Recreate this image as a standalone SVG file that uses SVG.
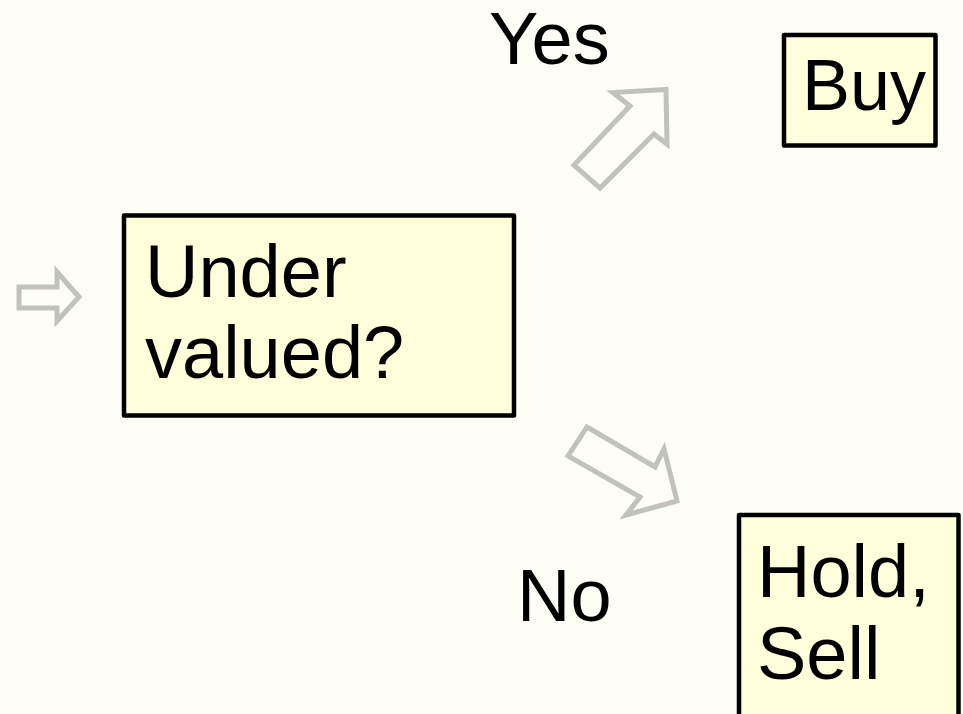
<svg xmlns="http://www.w3.org/2000/svg" width="963" height="714" viewBox="0 0 963 714">
<style>
.bg{fill:#fefef6}
.box{fill:#ffffdc;stroke:#000;stroke-width:4.5;stroke-linejoin:round}
.t{font-family:"Liberation Sans",Arial,sans-serif;font-size:74px;fill:#000}
.arr{fill:none;stroke:#c2c2bc;stroke-width:5;stroke-linejoin:miter}
</style>
<rect class="bg" x="0" y="0" width="963" height="714"/>
<g id="connectors">
<polygon class="arr" points="19,287 57,287 57,272 79,297 57,321 57,308 19,308"/>
<polygon class="arr" points="666,89.5 613,92.5 630,106 574,165 600,188 654,134 667,144"/>
<polygon class="arr" points="587,427 655,467 664,449 677,501 626,515 640,497 568,456"/>
</g>
<g id="label-yes"><text class="t" x="489" y="64">Yes</text></g>
<g id="label-no"><text class="t" x="517" y="621">No</text></g>
<g id="node-undervalued">
<rect class="box" x="124" y="215.5" width="390" height="200"/>
<text class="t" x="145" y="297">Under</text>
<text class="t" x="145" y="378">valued?</text>
</g>
<g id="node-buy">
<rect class="box" x="784" y="35" width="151.5" height="110.5"/>
<text class="t" x="802" y="110" style="font-size:72px">Buy</text>
</g>
<g id="node-holdsell">
<rect class="box" x="739" y="515" width="219.5" height="240"/>
<text class="t" x="757" y="597">Hold,</text>
<text class="t" x="757" y="679">Sell</text>
</g>
</svg>
